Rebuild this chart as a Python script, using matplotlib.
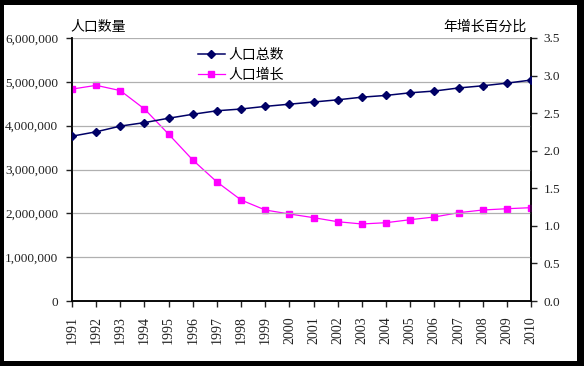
import numpy as np
import matplotlib
matplotlib.use("Agg")
import matplotlib.pyplot as plt
from matplotlib.patches import Rectangle
from matplotlib.ticker import FuncFormatter, MultipleLocator

plt.rcParams['font.family'] = ['Liberation Serif', 'Noto Sans CJK SC', 'DejaVu Sans']

years = list(range(1991, 2011))
population = [3760000, 3860000, 3990000, 4070000, 4170000, 4260000, 4340000, 4380000,
              4440000, 4490000, 4540000, 4590000, 4650000, 4690000, 4750000, 4790000,
              4860000, 4910000, 4970000, 5040000]
growth = [2.82, 2.87, 2.80, 2.555, 2.22, 1.876, 1.584, 1.344, 1.211, 1.158,
          1.109, 1.055, 1.025, 1.042, 1.082, 1.118, 1.175, 1.211, 1.228, 1.242]

left_label = '人口数量'
right_label = '年增长百分比'
series_names = ['人口总数', '人口增长']

W, H = 584, 366
fig = plt.figure(figsize=(W / 100, H / 100), dpi=100)
fig.patch.set_facecolor('black')
# white card inside the black frame
fig.patches.append(Rectangle((4 / W, 5 / H), 573 / W, 356 / H, transform=fig.transFigure,
                             facecolor='white', edgecolor='none', zorder=-5))

ax = fig.add_axes([72 / W, 1 - 301 / H, 459 / W, 263 / H])
ax2 = ax.twinx()
ax.set_zorder(ax2.get_zorder() + 1)
ax.patch.set_visible(False)
ax2.patch.set_visible(False)

x = np.arange(len(years))
l1, = ax.plot(x, population, color='#000066', lw=1.1, marker='D', ms=4.2,
              markerfacecolor='#000066', markeredgecolor='#000066', label=series_names[0], zorder=3)
l2, = ax2.plot(x, growth, color='#ff00ff', lw=0.9, marker='s', ms=5,
               markerfacecolor='#ff00ff', markeredgecolor='#ff00ff', label=series_names[1], zorder=3)

ax.set_xlim(0, len(years) - 1)
ax.set_ylim(0, 6000000)
ax2.set_ylim(0, 3.5)
ax.yaxis.set_major_locator(MultipleLocator(1000000))
ax2.yaxis.set_major_locator(MultipleLocator(0.5))
ax.yaxis.set_major_formatter(FuncFormatter(lambda v, p: f'{int(v):,}'))
ax2.yaxis.set_major_formatter(FuncFormatter(lambda v, p: f'{v:.1f}'))

ax.set_xticks(x)
ax.set_xticklabels([str(y) for y in years], rotation=90)
ax.grid(axis='y', color='#b0b0b0', lw=0.9)
ax.set_axisbelow(True)

for a in (ax, ax2):
    a.spines['top'].set_visible(False)
    for s in ('left', 'right', 'bottom'):
        a.spines[s].set_color('black')
        a.spines[s].set_linewidth(1.1)
    a.tick_params(direction='out', length=4, width=1, colors='#222222', labelsize=9.5)
ax.tick_params(axis='y', pad=6)
ax2.tick_params(axis='y', pad=5)
ax.tick_params(axis='x', pad=7, labelsize=10)

fig.text(70 / W, 1 - 27 / H, left_label, fontsize=10, ha='left', va='center',
         family=['Noto Sans CJK SC'])
fig.text(527 / W, 1 - 27 / H, right_label, fontsize=10, ha='right', va='center',
         family=['Noto Sans CJK SC'])

leg = ax.legend(handles=[l1, l2], loc='upper left', bbox_to_anchor=(120 / 459, 1 - 4 / 263),
                frameon=False, prop={'family': 'Noto Sans CJK SC', 'size': 10},
                handlelength=2.0, handletextpad=0.25, labelspacing=0.45, borderaxespad=0)

fig.savefig('out.png', dpi=100, facecolor=fig.get_facecolor())
